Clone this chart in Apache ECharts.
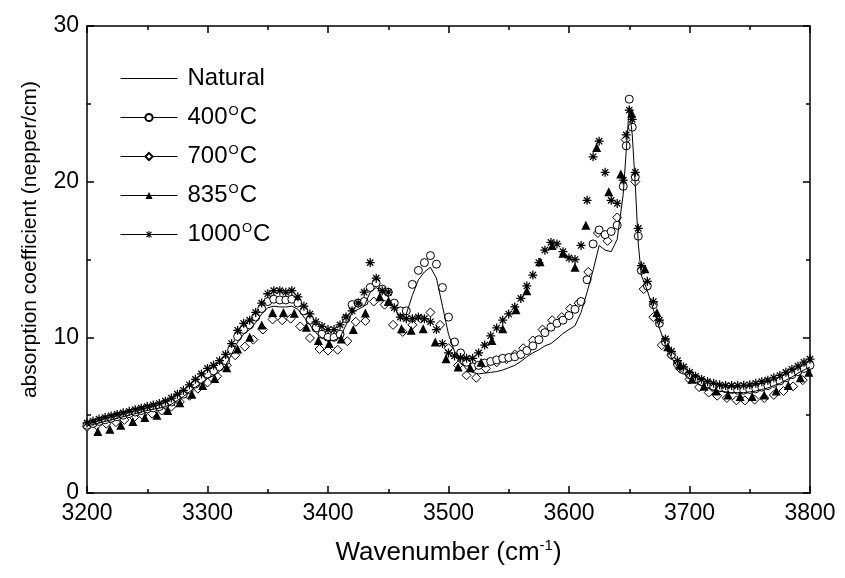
<!DOCTYPE html>
<html><head><meta charset="utf-8">
<script src="https://cdn.jsdelivr.net/npm/echarts/dist/echarts.min.js"></script>
<style>html,body{margin:0;padding:0;background:#fff}#c{width:845px;height:578px}</style>
</head><body><div id="c"></div>
<script>
// Common wavenumber grid (cm^-1) for Natural, 400°C and 1000°C
const wavenumber = [
 3200,3205,3210,3215,3220,3225,3230,3235,3240,3245,
 3250,3255,3260,3265,3270,3275,3280,3285,3290,3295,
 3300,3305,3310,3315,3320,3325,3330,3335,3340,3345,
 3350,3355,3360,3365,3370,3375,3380,3385,3390,3395,
 3400,3405,3410,3415,3420,3425,3430,3435,3440,3445,
 3450,3455,3460,3465,3470,3475,3480,3485,3490,3495,
 3500,3505,3510,3515,3520,3525,3530,3535,3540,3545,
 3550,3555,3560,3565,3570,3575,3580,3585,3590,3595,
 3600,3605,3610,3615,3620,3625,3630,3635,3640,3645,
 3647.5,3650,3652.5,3655,3657.5,
 3660,3665,3670,3675,3680,3685,3690,3695,3700,3705,
 3710,3715,3720,3725,3730,3735,3740,3745,3750,3755,
 3760,3765,3770,3775,3780,3785,3790,3795,3800
];
const natural = [
 4.3,4.4,4.5,4.6,4.7,4.8,4.9,5.0,5.1,5.2,
 5.3,5.38,5.45,5.55,5.7,5.95,6.2,6.5,6.8,7.05,
 7.35,7.55,7.8,8.2,8.9,9.7,10.2,10.5,10.95,11.5,
 11.9,12.0,11.95,11.95,12.0,11.8,11.3,10.8,10.3,9.95,
 9.8,9.8,10.0,10.8,11.6,11.8,12.0,12.9,13.2,12.9,
 12.6,11.9,11.3,11.5,12.7,13.7,14.2,14.5,13.8,12.0,
 10.2,9.1,8.4,7.95,7.75,7.65,7.7,7.75,7.8,7.9,
 8.05,8.2,8.45,8.75,9.0,9.2,9.45,9.6,9.9,10.25,
 10.5,10.75,11.6,12.9,14.3,15.9,15.6,15.5,16.3,19.2,
 22.0,24.8,23.0,19.8,16.0,
 14.0,13.0,11.8,10.6,9.5,8.7,8.1,7.7,7.35,7.1,
 6.9,6.75,6.6,6.55,6.5,6.45,6.45,6.45,6.5,6.55,
 6.65,6.75,6.9,7.05,7.25,7.45,7.7,7.9,8.1
];
const c400 = [
 4.35,4.47,4.6,4.7,4.8,4.9,5.0,5.1,5.2,5.3,
 5.4,5.47,5.55,5.7,5.85,6.1,6.35,6.65,7.0,7.3,
 7.65,7.85,8.1,8.5,9.2,10.05,10.5,10.8,11.3,11.85,
 12.3,12.45,12.4,12.4,12.45,12.2,11.7,11.1,10.6,10.2,
 10.0,10.0,10.2,11.2,12.1,12.2,12.3,13.2,13.5,13.1,
 12.9,12.2,11.7,11.7,13.4,14.3,14.8,15.25,14.7,13.2,
 11.3,9.7,9.0,8.4,8.1,8.2,8.35,8.45,8.55,8.65,
 8.7,8.75,8.9,9.15,9.45,9.85,10.3,10.65,10.9,11.1,
 11.4,11.8,12.3,13.7,16.0,16.9,16.6,16.8,17.2,19.7,
 22.3,25.3,23.5,20.3,16.5,
 14.3,13.3,12.1,10.9,9.7,8.9,8.3,7.9,7.6,7.35,
 7.15,7.0,6.85,6.75,6.7,6.65,6.6,6.6,6.65,6.7,
 6.8,6.9,7.05,7.2,7.4,7.6,7.8,8.0,8.2
];
const c1000 = [
 4.5,4.62,4.75,4.85,4.95,5.05,5.15,5.25,5.35,5.45,
 5.55,5.65,5.75,5.9,6.1,6.35,6.6,6.95,7.3,7.65,
 8.0,8.2,8.5,8.9,9.6,10.45,10.9,11.1,11.6,12.2,
 12.8,13.0,13.0,12.9,13.0,12.6,12.0,11.5,11.0,10.7,
 10.5,10.5,10.8,11.3,11.7,12.2,12.9,14.8,13.8,13.0,
 12.9,11.9,11.3,11.2,11.2,11.3,11.2,11.0,10.5,9.6,
 9.0,8.8,8.7,8.65,8.65,9.0,9.5,10.1,10.6,11.1,
 11.5,11.95,12.5,13.3,14.0,14.8,15.6,16.1,16.0,15.5,
 15.1,15.0,15.9,18.8,21.6,22.6,20.6,18.8,18.6,20.1,
 23.0,24.6,24.0,20.6,17.0,
 14.6,13.6,12.3,11.1,9.9,9.1,8.5,8.1,7.75,7.5,
 7.3,7.15,7.05,6.95,6.9,6.9,6.9,6.92,6.95,7.05,
 7.15,7.25,7.4,7.55,7.75,7.95,8.15,8.4,8.6
];
// 700°C (open diamonds)
const wn700 = [
 3200,3208,3216,3224,3231,3239,3246,3254,3262,3270,3277,3285,3292,3300,3308,3316,3323,3331,3338,3346,
 3354,3362,3369,3377,3385,3393,3400,3408,3416,3423,3431,3438,3447,3454,3462,3470,3477,3485,3493,3500,
 3508,3515,3523,3531,3540,3548,3555,3562,3570,3578,3586,3594,3601,3608,3616,3624,3632,3640,3647,3655,
 3662,3670,3677,3685,3692,3700,3708,3716,3723,3731,3739,3746,3754,3762,3770,3778,3786,3794
];
const c700 = [
 4.25,4.35,4.45,4.55,4.7,4.85,5.0,5.1,5.3,5.55,5.85,6.25,6.7,7.1,7.5,8.2,8.85,9.4,9.85,10.5,
 11.15,11.1,11.2,10.7,9.95,9.25,9.15,9.2,9.75,11.0,11.05,12.3,12.1,10.8,10.35,10.8,11.2,11.6,10.8,9.3,
 8.2,7.56,7.4,8.0,8.4,8.6,8.9,9.3,9.8,10.5,11.1,11.3,11.85,12.2,14.2,16.7,16.2,17.7,22.7,20.0,
 13.1,11.3,9.5,8.85,8.0,7.3,6.8,6.45,6.25,6.1,5.95,5.95,6.0,6.1,6.3,6.55,6.85,7.25
];
// 835°C (filled triangles)
const wn835 = [
 3209,3219,3228,3238,3248,3258,3267,3277,3287,3296,3306,3316,3325,3335,3345,3354,3363,3372,3382,3392,
 3401,3411,3421,3431,3443,3450,3461,3469,3479,3489,3498,3508,3518,3527,3536,3545,3556,3565,3576,3586,
 3595,3605,3614,3623,3633,3643,3652,3663,3673,3682,3692,3702,3712,3722,3732,3742,3752,3762,3772,3782,
 3792,3799
];
const c835 = [
 3.95,4.1,4.35,4.6,4.85,5.0,5.3,5.8,6.35,6.9,7.35,8.05,9.25,10.0,10.8,11.6,11.6,11.55,10.65,9.8,
 9.6,9.9,10.5,11.56,12.6,12.3,10.55,10.45,10.55,9.7,8.63,8.1,8.05,8.4,9.8,10.55,11.77,13.0,14.85,15.9,
 15.4,14.5,17.2,22.2,19.35,20.5,24.4,14.4,11.6,9.4,8.2,7.3,6.85,6.55,6.3,6.2,6.2,6.3,6.55,6.9,
 7.4,7.75
];
const legendNames = ['Natural', '400\u00B0C', '700\u00B0C', '835\u00B0C', '1000\u00B0C'];

const FONT = '"Liberation Sans", Arial, Helvetica, sans-serif';
const pairs = (xs, ys) => xs.map((x, i) => [x, ys[i]]);
const asterisk = 'path://M-0.7,-5L0.7,-5L0.7,5L-0.7,5Z M-5,-0.7L5,-0.7L5,0.7L-5,0.7Z M-3.005,-3.995L3.995,3.005L3.005,3.995L-3.995,-3.005Z M-3.005,3.995L-3.995,3.005L3.005,-3.995L3.995,-3.005Z';

const axisLine = {show: true, onZero: false, lineStyle: {color: '#000', width: 1.5}};
const axisTick = {show: true, inside: true, length: 7, lineStyle: {color: '#000', width: 1.5}};
const minorTick = {show: true, splitNumber: 2, length: 4, lineStyle: {color: '#000', width: 1.5}};

const chart = echarts.init(document.getElementById('c'), null, {renderer: 'canvas'});
const markerBase = {type: 'line', showAllSymbol: true, lineStyle: {color: '#000', opacity: 0}, animation: false};

chart.setOption({
  animation: false,
  backgroundColor: '#fff',
  grid: {left: 87, right: 35, top: 26, bottom: 85, containLabel: false, outerBoundsMode: 'none'},
  legend: {
    orient: 'vertical', left: 115, top: 61,
    itemWidth: 57, itemHeight: 9, itemGap: 14,
    data: [{name: legendNames[0], itemStyle: {opacity: 0}}].concat(legendNames.slice(1)),
    lineStyle: {color: '#000', width: 1, opacity: 1},
    formatter: n => n.replace('\u00B0', '{s|O}'),
    textStyle: {
      fontFamily: FONT, fontSize: 24, color: '#000', lineHeight: 25, padding: [0, 0, 0, 5],
      rich: {s: {fontFamily: FONT, fontSize: 13, color: '#000', lineHeight: 25, verticalAlign: 'top', padding: [0, 1, 12, 1]}}
    }
  },
  xAxis: [
    {type: 'value', min: 3200, max: 3800, interval: 100, position: 'bottom',
     axisLine, axisTick, minorTick, splitLine: {show: false}, minorSplitLine: {show: false},
     axisLabel: {fontFamily: FONT, fontSize: 23, color: '#000', margin: 9, formatter: v => String(v)},
     name: 'Wavenumber (cm{s|-1})', nameLocation: 'middle', nameGap: 45,
     nameTextStyle: {fontFamily: FONT, fontSize: 26, color: '#000',
       rich: {s: {fontFamily: FONT, fontSize: 15, color: '#000', verticalAlign: 'top', padding: [0, 0, 14, 0]}}}},
    {type: 'value', min: 3200, max: 3800, interval: 100, position: 'top',
     axisLine, axisTick, minorTick, splitLine: {show: false}, axisLabel: {show: false}}
  ],
  yAxis: [
    {type: 'value', min: 0, max: 30, interval: 10, position: 'left',
     axisLine, axisTick, minorTick, splitLine: {show: false},
     axisLabel: {fontFamily: FONT, fontSize: 23, color: '#000', margin: 8},
     name: 'absorption coefficient (nepper/cm)', nameLocation: 'middle', nameGap: 46, nameRotate: 90,
     nameTextStyle: {fontFamily: FONT, fontSize: 21, color: '#000', padding: [0, 0, 0, 40]}},
    {type: 'value', min: 0, max: 30, interval: 10, position: 'right',
     axisLine, axisTick, minorTick, splitLine: {show: false}, axisLabel: {show: false}}
  ],
  series: [
    {name: legendNames[0], type: 'line', data: pairs(wavenumber, natural), symbol: 'none',
     lineStyle: {color: '#000', width: 1}, itemStyle: {color: '#000'}, z: 5, animation: false},
    Object.assign({}, markerBase, {name: legendNames[1], data: pairs(wavenumber, c400),
     symbol: 'circle', symbolSize: 8, itemStyle: {color: '#fff', borderColor: '#000', borderWidth: 1}, z: 3}),
    Object.assign({}, markerBase, {name: legendNames[2], data: pairs(wn700, c700),
     symbol: 'diamond', symbolSize: 9, itemStyle: {color: '#fff', borderColor: '#000', borderWidth: 1}, z: 2}),
    Object.assign({}, markerBase, {name: legendNames[3], data: pairs(wn835, c835),
     symbol: 'triangle', symbolSize: 9, itemStyle: {color: '#000', borderColor: '#000', borderWidth: 0}, z: 4}),
    Object.assign({}, markerBase, {name: legendNames[4], data: pairs(wavenumber, c1000),
     symbol: asterisk, symbolSize: 9, itemStyle: {color: '#000'}, z: 4})
  ]
});
</script></body></html>
